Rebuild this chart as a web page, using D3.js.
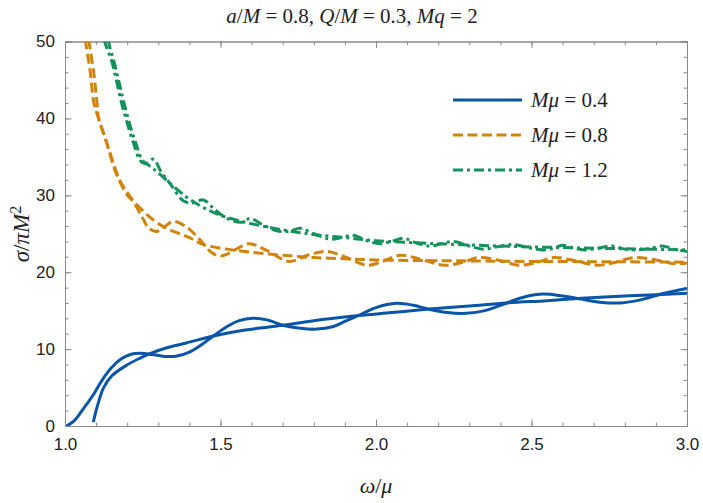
<!DOCTYPE html>
<html lang="en">
<head>
<meta charset="UTF-8">
<title>sigma vs omega</title>
<style>
  body { margin: 0; background: #fff; }
  .tick text { font-family: "Liberation Sans", Arial, sans-serif; font-size: 17px; fill: #222; }
  .math { font-family: "Liberation Serif", "Times New Roman", serif; fill: #222; }
</style>
</head>
<body>
<script src="https://cdn.jsdelivr.net/npm/d3@7"></script>
<script>
// values: [omega/mu, sigma/(pi M^2)]
var blueOsc = [[1.005,0],[1.03,0.7],[1.06,2.3],[1.09,4.0],[1.12,6.0],[1.15,7.6],[1.18,8.7],[1.21,9.3],[1.24,9.45],[1.28,9.3],[1.32,9.05],[1.36,9.1],[1.40,9.6],[1.44,10.6],[1.48,11.8],[1.52,12.9],[1.56,13.7],[1.605,14.0],[1.65,13.8],[1.70,13.1],[1.75,12.75],[1.81,12.6],[1.86,12.9],[1.90,13.6],[1.95,14.5],[2.00,15.4],[2.066,15.95],[2.12,15.7],[2.17,15.2],[2.23,14.75],[2.29,14.65],[2.35,15.0],[2.42,16.0],[2.48,16.8],[2.537,17.15],[2.60,16.9],[2.66,16.5],[2.72,16.1],[2.785,16.0],[2.85,16.4],[2.92,17.2],[3.0,17.9]];
var blueSmooth = [[1.091,0.5],[1.10,2.0],[1.11,3.4],[1.123,4.9],[1.15,6.5],[1.198,7.9],[1.24,8.8],[1.273,9.4],[1.33,10.2],[1.39,10.8],[1.477,11.7],[1.55,12.3],[1.62,12.7],[1.70,13.1],[1.80,13.7],[1.93,14.3],[2.05,14.75],[2.17,15.2],[2.30,15.6],[2.42,16.0],[2.55,16.3],[2.66,16.6],[2.80,16.9],[2.92,17.1],[3.0,17.25]];
var orangeOsc = [[1.055,54],[1.065,50.4],[1.081,46.1],[1.093,42],[1.108,40],[1.14,36.1],[1.178,31.8],[1.22,29.2],[1.25,27.0],[1.27,25.7],[1.295,25.3],[1.32,25.9],[1.348,26.6],[1.39,25.9],[1.43,24.4],[1.47,22.6],[1.50,22.1],[1.53,22.5],[1.59,23.7],[1.65,22.8],[1.72,21.4],[1.78,22.2],[1.84,22.7],[1.90,22.0],[1.97,20.9],[2.02,21.4],[2.08,22.2],[2.15,21.6],[2.22,20.9],[2.28,21.3],[2.33,21.9],[2.40,21.5],[2.46,20.9],[2.52,21.3],[2.57,21.9],[2.64,21.5],[2.71,20.9],[2.77,21.3],[2.83,21.9],[2.90,21.6],[2.96,21.1],[3.0,21.2]];
var orangeSmooth = [[1.068,54],[1.076,50.4],[1.092,46.1],[1.103,42],[1.108,40],[1.13,37.4],[1.162,33.1],[1.199,30.1],[1.22,29.2],[1.284,26.8],[1.327,25.7],[1.40,24.5],[1.445,23.6],[1.52,23.0],[1.60,22.6],[1.70,22.2],[1.80,21.9],[1.90,21.75],[2.0,21.6],[2.2,21.5],[2.5,21.4],[2.8,21.35],[3.0,21.3]];
var greenOsc = [[1.122,53],[1.128,50],[1.15,47.5],[1.165,45],[1.18,42.3],[1.20,39.4],[1.22,36.8],[1.242,34.5],[1.258,34.1],[1.284,34.7],[1.31,33.0],[1.34,31.4],[1.38,29.3],[1.41,29.0],[1.445,29.4],[1.48,28.2],[1.52,27.0],[1.57,26.5],[1.595,27.0],[1.63,26.3],[1.68,25.4],[1.72,25.3],[1.756,25.7],[1.80,25.0],[1.852,24.3],[1.89,24.5],[1.927,24.8],[1.97,24.1],[2.013,23.7],[2.05,24.0],[2.088,24.4],[2.13,23.8],[2.174,23.4],[2.21,23.7],[2.248,24.0],[2.30,23.4],[2.345,23.0],[2.39,23.3],[2.44,23.6],[2.49,23.2],[2.537,22.9],[2.57,23.1],[2.60,23.5],[2.64,23.1],[2.677,22.9],[2.71,23.1],[2.76,23.4],[2.80,23.0],[2.84,22.9],[2.88,23.1],[2.92,23.4],[2.96,23.0],[3.0,22.7]];
var greenSmooth = [[1.134,53],[1.14,50],[1.16,47],[1.175,44.5],[1.19,42],[1.21,39],[1.23,36.5],[1.25,34.5],[1.28,33.6],[1.32,32.2],[1.365,30.6],[1.40,29.5],[1.45,28.3],[1.50,27.4],[1.55,26.8],[1.60,26.3],[1.70,25.5],[1.80,24.9],[1.90,24.5],[2.0,24.1],[2.2,23.7],[2.4,23.4],[2.6,23.2],[2.8,23.05],[3.0,22.9]];

var muLabels = ["0.4", "0.8", "1.2"];
var xTicks = [1.0, 1.5, 2.0, 2.5, 3.0];
var yTicks = [0, 10, 20, 30, 40, 50];

var width = 703, height = 503;
var plotL = 65, plotR = 687, plotT = 41.5, plotB = 426;

var svg = d3.select("body").append("svg")
    .attr("width", width).attr("height", height);

var x = d3.scaleLinear().domain([1, 3]).range([plotL, plotR]);
var y = d3.scaleLinear().domain([0, 50]).range([plotB, plotT]);

var styles = [
    {color: "#0b55a8", dash: null},
    {color: "#d0840c", dash: "10,4.5"},
    {color: "#14925c", dash: "10,4,3,4"}
];
var series = [
    {s: 0, d: blueOsc}, {s: 0, d: blueSmooth},
    {s: 1, d: orangeOsc}, {s: 1, d: orangeSmooth},
    {s: 2, d: greenOsc}, {s: 2, d: greenSmooth}
];

svg.append("clipPath").attr("id", "clip")
  .append("rect").attr("x", plotL).attr("y", plotT)
    .attr("width", plotR - plotL).attr("height", plotB - plotT);

// frame with ticks on all sides
var gridColor = "#8a8a8a";
function frameAxis(axis, tx, ty) {
  var g = svg.append("g").attr("transform", "translate(" + tx + "," + ty + ")").call(axis);
  g.select(".domain").attr("stroke", gridColor);
  g.selectAll(".tick line").attr("stroke", gridColor);
  return g;
}
var xMinor = d3.range(1, 3.0001, 0.1);
var yMinor = d3.range(0, 50.001, 2);

frameAxis(d3.axisBottom(x).tickValues(xMinor).tickSize(-3.5).tickFormat(""), 0, plotB);
frameAxis(d3.axisBottom(x).tickValues(xTicks).tickSize(-6.5).tickPadding(12).tickFormat(d3.format(".1f")), 0, plotB);
frameAxis(d3.axisTop(x).tickValues(xMinor).tickSize(-3.5).tickFormat(""), 0, plotT);
frameAxis(d3.axisTop(x).tickValues(xTicks).tickSize(-6.5).tickFormat(""), 0, plotT);
frameAxis(d3.axisLeft(y).tickValues(yMinor).tickSize(-3.5).tickFormat(""), plotL, 0);
frameAxis(d3.axisLeft(y).tickValues(yTicks).tickSize(-6.5).tickPadding(10).tickFormat(d3.format("d")), plotL, 0);
frameAxis(d3.axisRight(y).tickValues(yMinor).tickSize(-3.5).tickFormat(""), plotR, 0);
frameAxis(d3.axisRight(y).tickValues(yTicks).tickSize(-6.5).tickFormat(""), plotR, 0);

var line = d3.line()
    .x(function(d) { return x(d[0]); })
    .y(function(d) { return y(d[1]); })
    .curve(d3.curveCatmullRom.alpha(0.5));

svg.append("g").attr("clip-path", "url(#clip)")
  .selectAll("path").data(series).enter().append("path")
    .attr("d", function(d) { return line(d.d); })
    .attr("fill", "none")
    .attr("stroke", function(d) { return styles[d.s].color; })
    .attr("stroke-width", 3)
    .attr("stroke-dasharray", function(d) { return styles[d.s].dash; });

// helper for math text: parts [text, italic, superscript]
function mathText(g, parts) {
  parts.forEach(function(p) {
    var t = g.append("tspan").text(p[0]);
    if (p[1]) t.attr("font-style", "italic");
    if (p[2]) t.attr("baseline-shift", "super").attr("font-size", "70%");
  });
}

// title
var title = svg.append("text").attr("class", "math")
    .attr("x", 352).attr("y", 23).attr("text-anchor", "middle")
    .attr("font-size", 21);
mathText(title, [["a", 1], ["/", 0], ["M", 1], [" = 0.8, ", 0], ["Q", 1], ["/", 0], ["M", 1], [" = 0.3, ", 0], ["Mq", 1], [" = 2", 0]]);

// axis labels
var xl = svg.append("text").attr("class", "math")
    .attr("x", 376).attr("y", 493).attr("text-anchor", "middle").attr("font-size", 22);
mathText(xl, [["ω", 1], ["/", 0], ["μ", 1]]);

var yl = svg.append("text").attr("class", "math")
    .attr("transform", "translate(29,234) rotate(-90)")
    .attr("text-anchor", "middle").attr("font-size", 23);
mathText(yl, [["σ", 1], ["/", 0], ["π", 1], ["M", 1], ["2", 0, 1]]);

// legend
var leg = svg.append("g");
muLabels.forEach(function(m, i) {
  var ly = 100 + i * 35;
  leg.append("line")
      .attr("x1", 453).attr("x2", 522).attr("y1", ly).attr("y2", ly)
      .attr("stroke", styles[i].color).attr("stroke-width", 3)
      .attr("stroke-dasharray", styles[i].dash);
  var t = leg.append("text").attr("class", "math")
      .attr("x", 531).attr("y", ly + 7).attr("font-size", 21);
  mathText(t, [["M", 1], ["μ", 1], [" = " + m, 0]]);
});
</script>
</body>
</html>
